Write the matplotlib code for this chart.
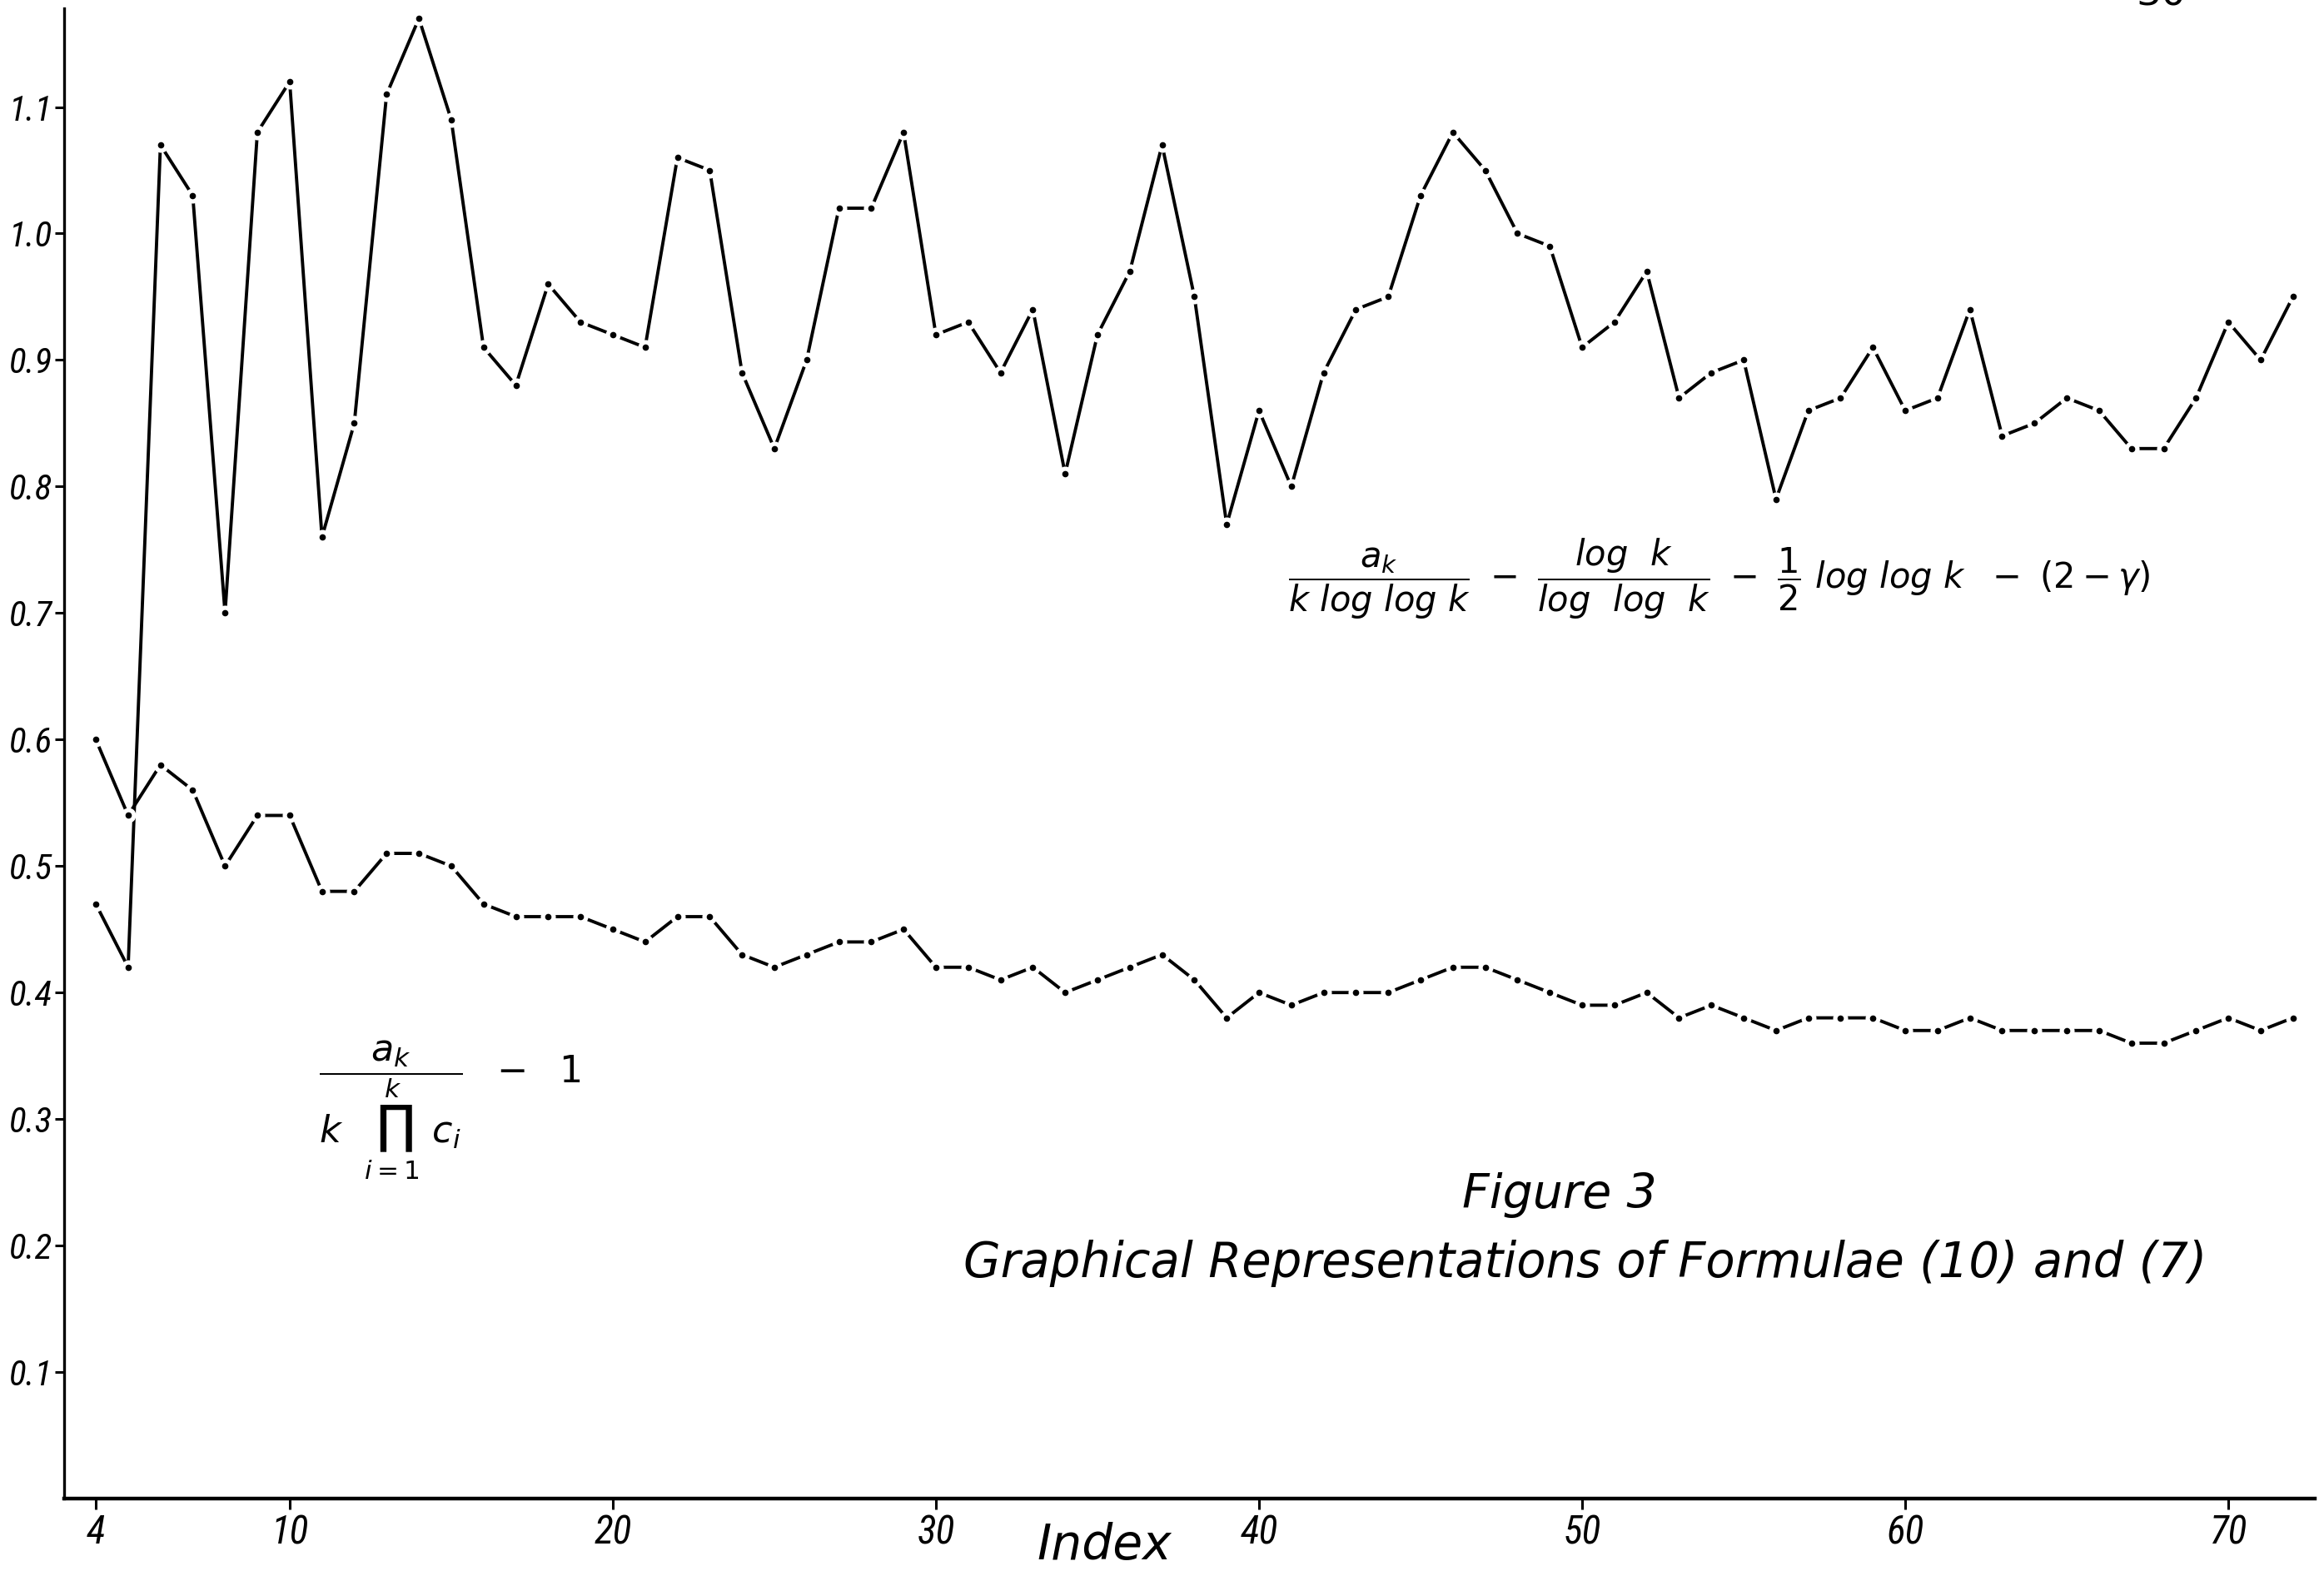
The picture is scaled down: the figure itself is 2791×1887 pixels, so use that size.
import matplotlib
matplotlib.use("Agg")
import matplotlib.pyplot as plt
from matplotlib import font_manager

# ---- data ----
index = list(range(4, 73))

formula_10 = [0.47, 0.42, 1.07, 1.03, 0.70, 1.08, 1.12, 0.76, 0.85, 1.11,
              1.17, 1.09, 0.91, 0.88, 0.96, 0.93, 0.92, 0.91, 1.06, 1.05,
              0.89, 0.83, 0.90, 1.02, 1.02, 1.08, 0.92, 0.93, 0.89, 0.94,
              0.81, 0.92, 0.97, 1.07, 0.95, 0.77, 0.86, 0.80, 0.89, 0.94,
              0.95, 1.03, 1.08, 1.05, 1.00, 0.99, 0.91, 0.93, 0.97, 0.87,
              0.89, 0.90, 0.79, 0.86, 0.87, 0.91, 0.86, 0.87, 0.94, 0.84,
              0.85, 0.87, 0.86, 0.83, 0.83, 0.87, 0.93, 0.90, 0.95]

formula_7 = [0.60, 0.54, 0.58, 0.56, 0.50, 0.54, 0.54, 0.48, 0.48, 0.51,
             0.51, 0.50, 0.47, 0.46, 0.46, 0.46, 0.45, 0.44, 0.46, 0.46,
             0.43, 0.42, 0.43, 0.44, 0.44, 0.45, 0.42, 0.42, 0.41, 0.42,
             0.40, 0.41, 0.42, 0.43, 0.41, 0.38, 0.40, 0.39, 0.40, 0.40,
             0.40, 0.41, 0.42, 0.42, 0.41, 0.40, 0.39, 0.39, 0.40, 0.38,
             0.39, 0.38, 0.37, 0.38, 0.38, 0.38, 0.37, 0.37, 0.38, 0.37,
             0.37, 0.37, 0.37, 0.36, 0.36, 0.37, 0.38, 0.37, 0.38]

x_ticks = [4, 10, 20, 30, 40, 50, 60, 70]
y_ticks = [0.1, 0.2, 0.3, 0.4, 0.5, 0.6, 0.7, 0.8, 0.9, 1.0, 1.1]
y_tick_labels = ["0.1", "0.2", "0.3", "0.4", "0.5", "0.6", "0.7", "0.8", "0.9", "1.0", "1.1"]

# ---- fonts ----
available = {f.name for f in font_manager.fontManager.ttflist}
narrow = None
for cand in ["Liberation Sans Narrow", "DejaVu Sans Condensed", "Roboto Condensed",
             "Open Sans Condensed", "Noto Sans Condensed", "Arial Narrow"]:
    if cand in available:
        narrow = cand
        break
if narrow is None:
    narrow = "DejaVu Sans"
    tick_fs_x, tick_fs_y = 30, 26
else:
    tick_fs_x, tick_fs_y = 34, 31

plt.rcParams["font.family"] = ["DejaVu Sans"]
plt.rcParams["mathtext.fontset"] = "dejavusans"

fig = plt.figure(figsize=(27.91, 18.87), dpi=100)
ax = fig.add_axes([0.0276, 0.0461, 0.9685, 0.9486])

for series in (formula_10, formula_7):
    ax.plot(index, series, color="black", lw=2.8, solid_capstyle="butt", zorder=2)
    ax.plot(index, series, ls="none", marker="o", ms=13, mfc="white", mec="none", zorder=3)
    ax.plot(index, series, ls="none", marker="o", ms=5.5, mfc="black", mec="none", zorder=4)

ax.set_xlim(3.02, 72.68)
ax.set_ylim(0.0, 1.178)

for side in ("top", "right"):
    ax.spines[side].set_visible(False)
ax.spines["left"].set_linewidth(2.4)
ax.spines["bottom"].set_linewidth(3.2)

ax.set_xticks(x_ticks)
ax.set_xticklabels([str(t) for t in x_ticks], fontsize=tick_fs_x, fontstyle="italic", family=narrow)
ax.set_yticks(y_ticks)
ax.set_yticklabels(y_tick_labels, fontsize=tick_fs_y, fontstyle="italic", family=narrow)
ax.tick_params(axis="x", direction="out", length=9, width=2.2, pad=4)
ax.tick_params(axis="y", direction="out", length=8, width=2.2, pad=2)

# axis title placed inside the figure
fig.text(1326 / 2791, 1 - 1828 / 1887, "Index", fontsize=42, fontstyle="italic",
         ha="center", va="top")

# formula annotations
ax.text(40.9, 0.727,
        r"$\dfrac{a_k}{k\ log\ log\ k}\ -\ \dfrac{log\ \ k}{log\ \ log\ \ k}\ -\ \dfrac{1}{2}\ log\ log\ k\ \ -\ (2-\gamma)$",
        fontsize=30, ha="left", va="center")
ax.text(10.9, 0.307,
        r"$\dfrac{a_k}{k\ \ \prod_{i=1}^{k}\ c_i}\ \ -\ \ 1$",
        fontsize=32, ha="left", va="center")

ax.text(49.3, 0.2396, "Figure 3", fontsize=41, fontstyle="italic", ha="center", va="center")
ax.text(50.1, 0.1856, "Graphical Representations of Formulae (10) and (7)",
        fontsize=41.5, fontstyle="italic", ha="center", va="center")

# page number, cut off at the top edge as in the scan
fig.text(0.9298, 0.9968, "30", fontsize=34, ha="center", va="baseline")

fig.savefig("out.png", dpi=100, facecolor="white")
